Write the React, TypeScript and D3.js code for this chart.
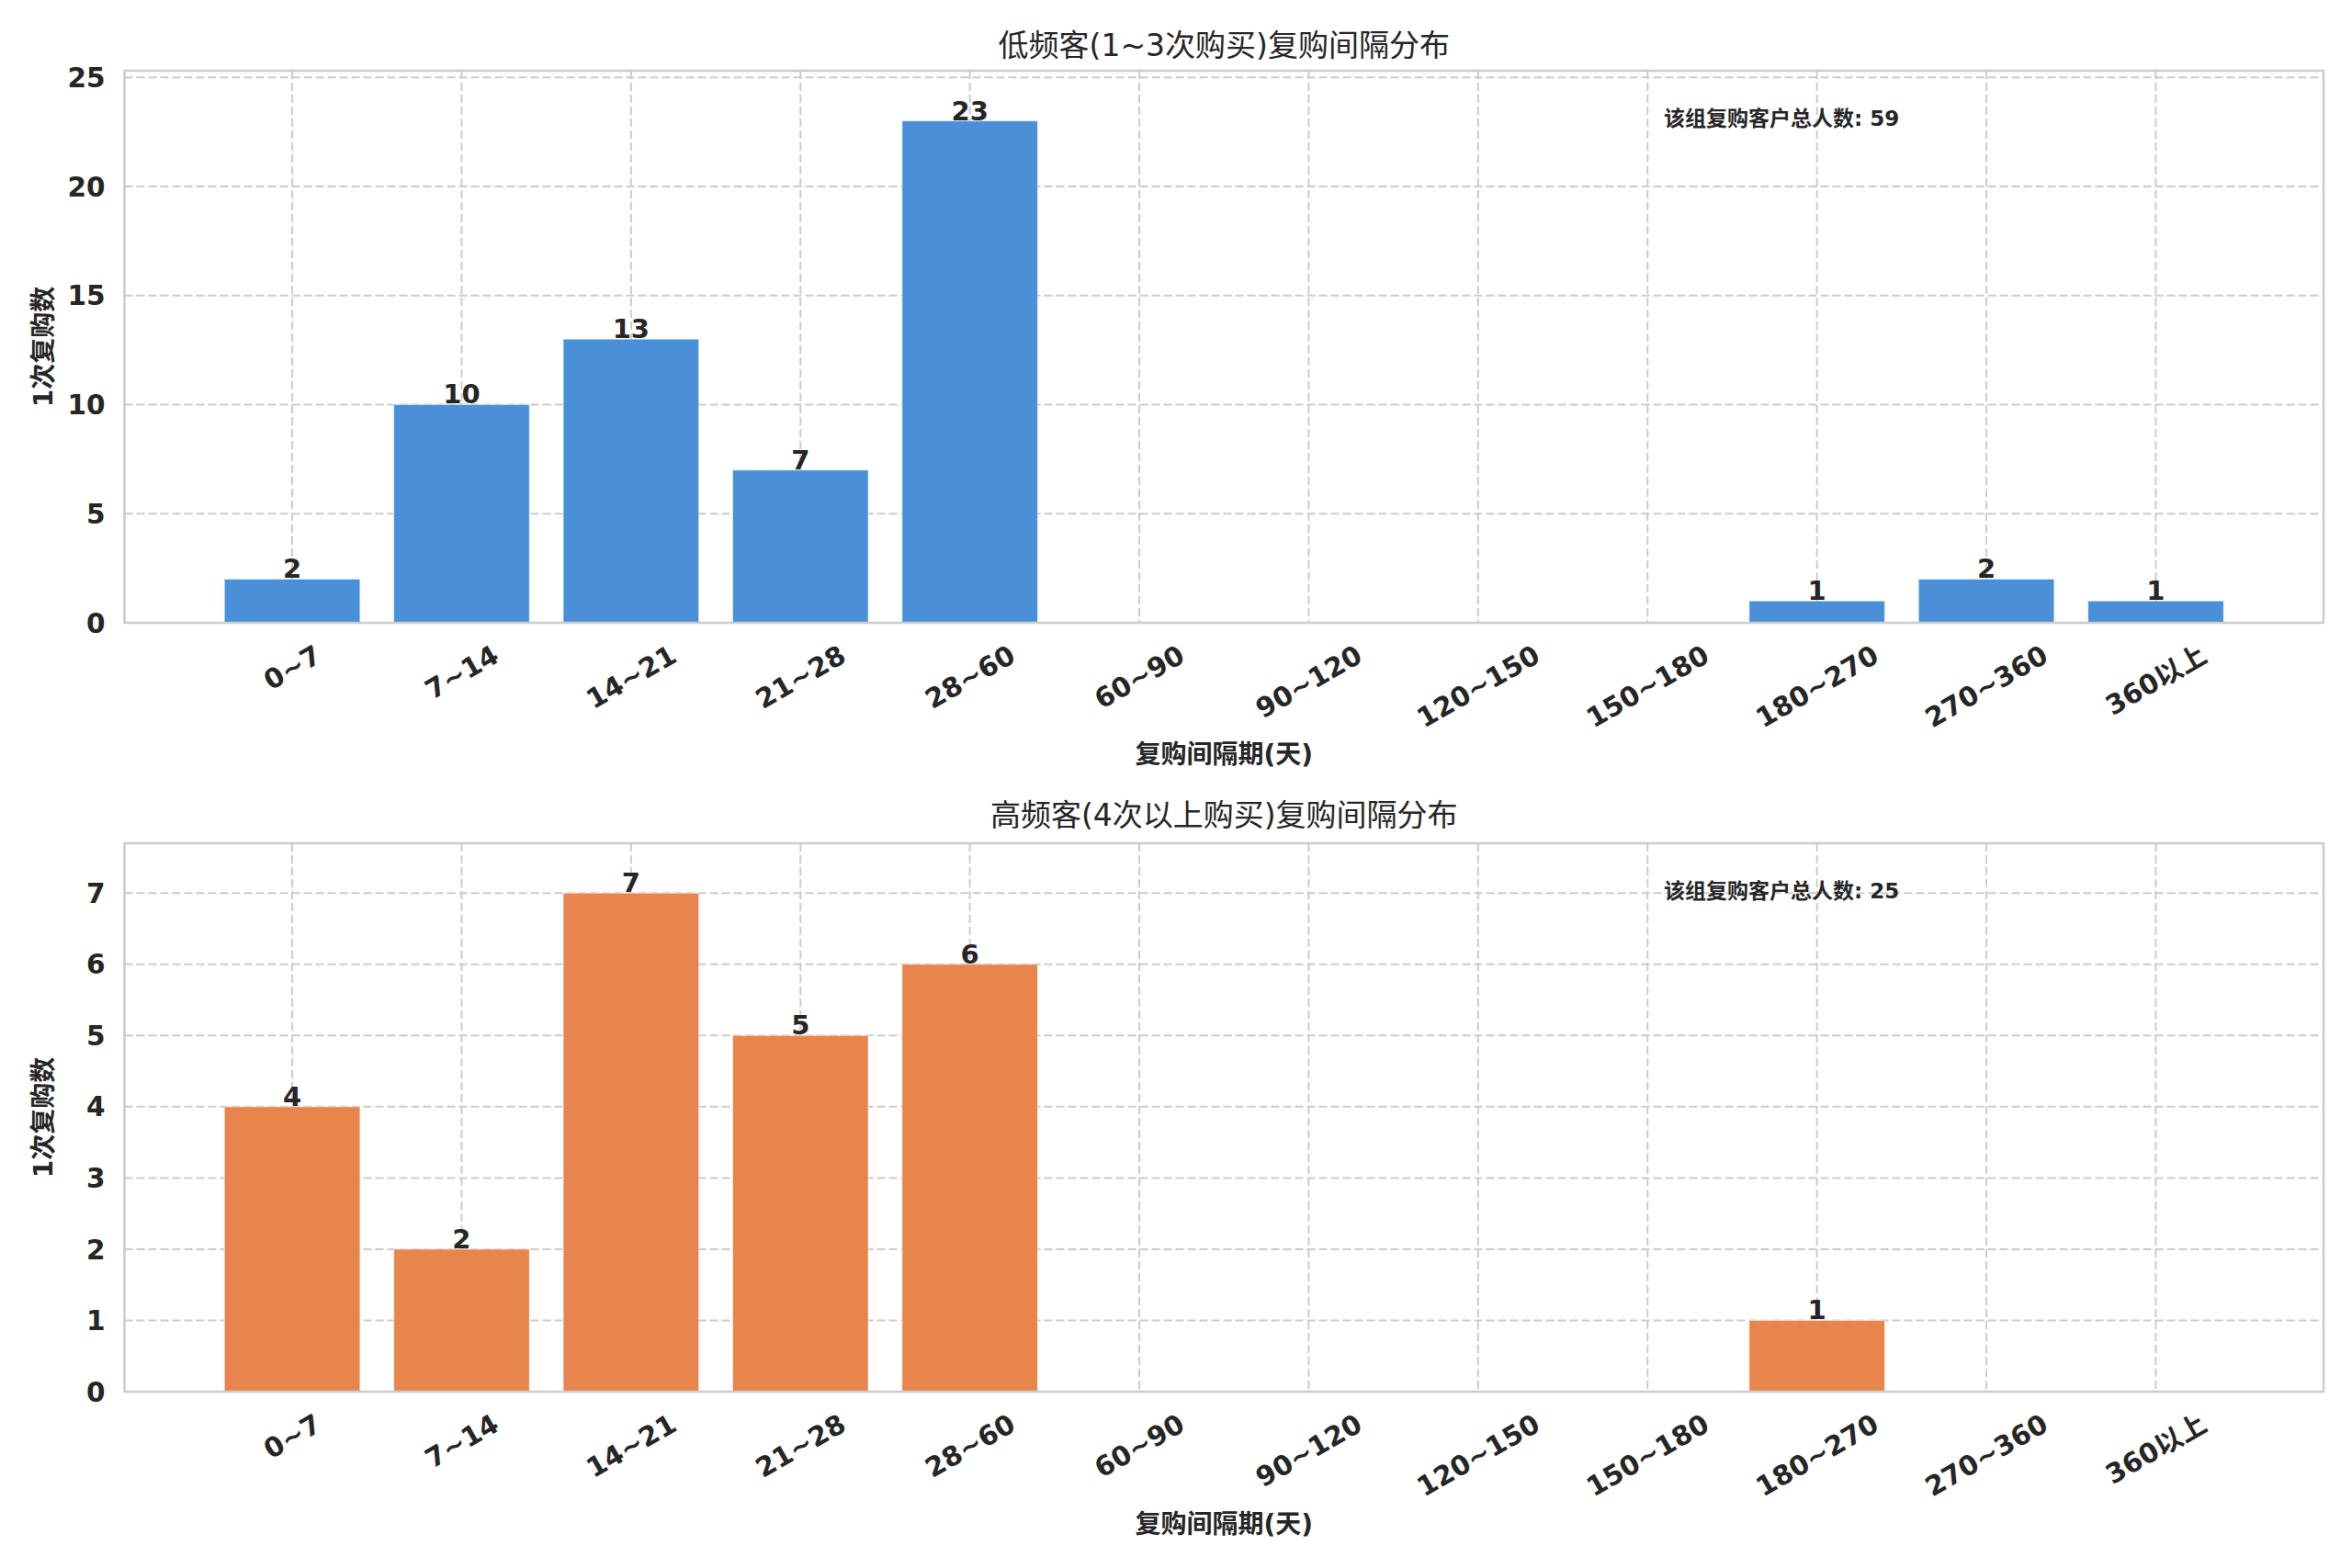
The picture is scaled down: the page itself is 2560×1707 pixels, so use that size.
import React, { useEffect, useMemo } from "react";
import * as d3 from "d3";

// interval buckets (days) and counts per bucket
const categories = [
  "0~7",
  "7~14",
  "14~21",
  "21~28",
  "28~60",
  "60~90",
  "90~120",
  "120~150",
  "150~180",
  "180~270",
  "270~360",
  "360以上",
];
const lowFreqCounts = [2, 10, 13, 7, 23, 0, 0, 0, 0, 1, 2, 1];
const highFreqCounts = [4, 2, 7, 5, 6, 0, 0, 0, 0, 1, 0, 0];

const panelTitles = [
  "低频客(1~3次购买)复购间隔分布",
  "高频客(4次以上购买)复购间隔分布",
];
const xAxisLabel = "复购间隔期(天)";
const yAxisLabel = "1次复购数";
const totalLabel = "该组复购客户总人数";
const barColors = ["#4a90d9", "#e8854d"];

const W = 2560;
const H = 1707;
const FONT = "'DejaVu Sans', 'Noto Sans CJK SC', sans-serif";
const TEXT = "#262626";
const GRID = "#cccccc";
const TICK_SIZE = 29.5;

const measureCtx =
  typeof document !== "undefined"
    ? document.createElement("canvas").getContext("2d")
    : null;

function textWidth(s: string, size: number) {
  if (!measureCtx) return s.length * size * 0.65;
  measureCtx.font = `bold ${size}px ${FONT}`;
  return measureCtx.measureText(s).width;
}

interface PanelProps {
  values: number[];
  color: string;
  title: string;
  top: number;
  bottom: number;
  titleY: number;
  xLabelY: number;
}

const LEFT = 135.5;
const RIGHT = 2529;

function Panel({ values, color, title, top, bottom, titleY, xLabelY }: PanelProps) {
  const maxV = d3.max(values) ?? 1;
  const total = d3.sum(values);

  const x = d3
    .scaleLinear()
    .domain([-0.99, categories.length - 1 + 0.99])
    .range([LEFT, RIGHT]);
  const y = d3
    .scaleLinear()
    .domain([0, maxV * 1.1])
    .range([bottom, top]);
  const yTicks = y.ticks(6);
  const barW = x(0.8) - x(0);

  return (
    <g>
      {/* grid */}
      <g stroke={GRID} strokeWidth={2} strokeDasharray="9,4">
        {yTicks.map((t) => (
          <line key={"h" + t} x1={LEFT} x2={RIGHT} y1={y(t)} y2={y(t)} />
        ))}
        {categories.map((c, i) => (
          <line key={"v" + c} x1={x(i)} x2={x(i)} y1={top} y2={bottom} />
        ))}
      </g>

      {/* bars */}
      <g>
        {values.map((v, i) =>
          v > 0 ? (
            <rect
              key={categories[i]}
              x={x(i) - barW / 2}
              y={y(v)}
              width={barW}
              height={bottom - y(v)}
              fill={color}
              stroke="white"
              strokeOpacity={0.5}
              strokeWidth={1}
            />
          ) : null
        )}
      </g>

      {/* frame */}
      <rect
        x={LEFT}
        y={top}
        width={RIGHT - LEFT}
        height={bottom - top}
        fill="none"
        stroke={GRID}
        strokeWidth={2.5}
      />

      {/* value labels */}
      <g textAnchor="middle" fontWeight="bold" fontSize={29} fill={TEXT}>
        {values.map((v, i) =>
          v > 0 ? (
            <text key={"l" + i} x={x(i)} y={y(v) - 1}>
              {v}
            </text>
          ) : null
        )}
      </g>

      {/* y ticks */}
      <g textAnchor="end" fontWeight="bold" fontSize={TICK_SIZE} fill={TEXT}>
        {yTicks.map((t) => (
          <text key={"yt" + t} x={LEFT - 21} y={y(t)} dy="0.36em">
            {t}
          </text>
        ))}
      </g>

      {/* x ticks, rotated 30 deg, bbox top-aligned like matplotlib */}
      <g textAnchor="middle" fontWeight="bold" fontSize={TICK_SIZE} fill={TEXT}>
        {categories.map((c, i) => {
          const w = textWidth(c, TICK_SIZE);
          const h = TICK_SIZE * 1.17;
          const bh = w * 0.5 + h * 0.866;
          const cy = bottom + 17 + bh / 2;
          return (
            <text
              key={"xt" + c}
              x={x(i)}
              y={cy}
              dy="0.36em"
              transform={`rotate(-30, ${x(i)}, ${cy})`}
            >
              {c}
            </text>
          );
        })}
      </g>

      {/* title and axis labels */}
      <text
        x={(LEFT + RIGHT) / 2}
        y={titleY}
        dy="0.36em"
        textAnchor="middle"
        fontSize={33}
        fill={TEXT}
      >
        {title}
      </text>
      <text
        x={(LEFT + RIGHT) / 2}
        y={xLabelY}
        dy="0.36em"
        textAnchor="middle"
        fontSize={28}
        fontWeight="bold"
        fill={TEXT}
      >
        {xAxisLabel}
      </text>
      <text
        transform={`translate(47, ${(top + bottom) / 2}) rotate(-90)`}
        dy="0.36em"
        textAnchor="middle"
        fontSize={28}
        fontWeight="bold"
        fill={TEXT}
      >
        {yAxisLabel}
      </text>

      {/* total annotation */}
      <text
        x={LEFT + 0.7 * (RIGHT - LEFT)}
        y={top + 52}
        dy="0.36em"
        fontSize={23}
        fontWeight="bold"
        fill={TEXT}
      >
        {`${totalLabel}: ${total}`}
      </text>
    </g>
  );
}

export default function App() {
  useEffect(() => {
    document.body.style.margin = "0";
  }, []);

  const panels = useMemo(
    () => [
      { values: lowFreqCounts, top: 77, bottom: 678, titleY: 49, xLabelY: 821 },
      { values: highFreqCounts, top: 918, bottom: 1515, titleY: 887, xLabelY: 1659 },
    ],
    []
  );

  return (
    <svg
      width={W}
      height={H}
      viewBox={`0 0 ${W} ${H}`}
      style={{ display: "block", background: "white", fontFamily: FONT }}
    >
      <rect width={W} height={H} fill="white" />
      {panels.map((p, i) => (
        <Panel
          key={i}
          values={p.values}
          color={barColors[i]}
          title={panelTitles[i]}
          top={p.top}
          bottom={p.bottom}
          titleY={p.titleY}
          xLabelY={p.xLabelY}
        />
      ))}
    </svg>
  );
}
